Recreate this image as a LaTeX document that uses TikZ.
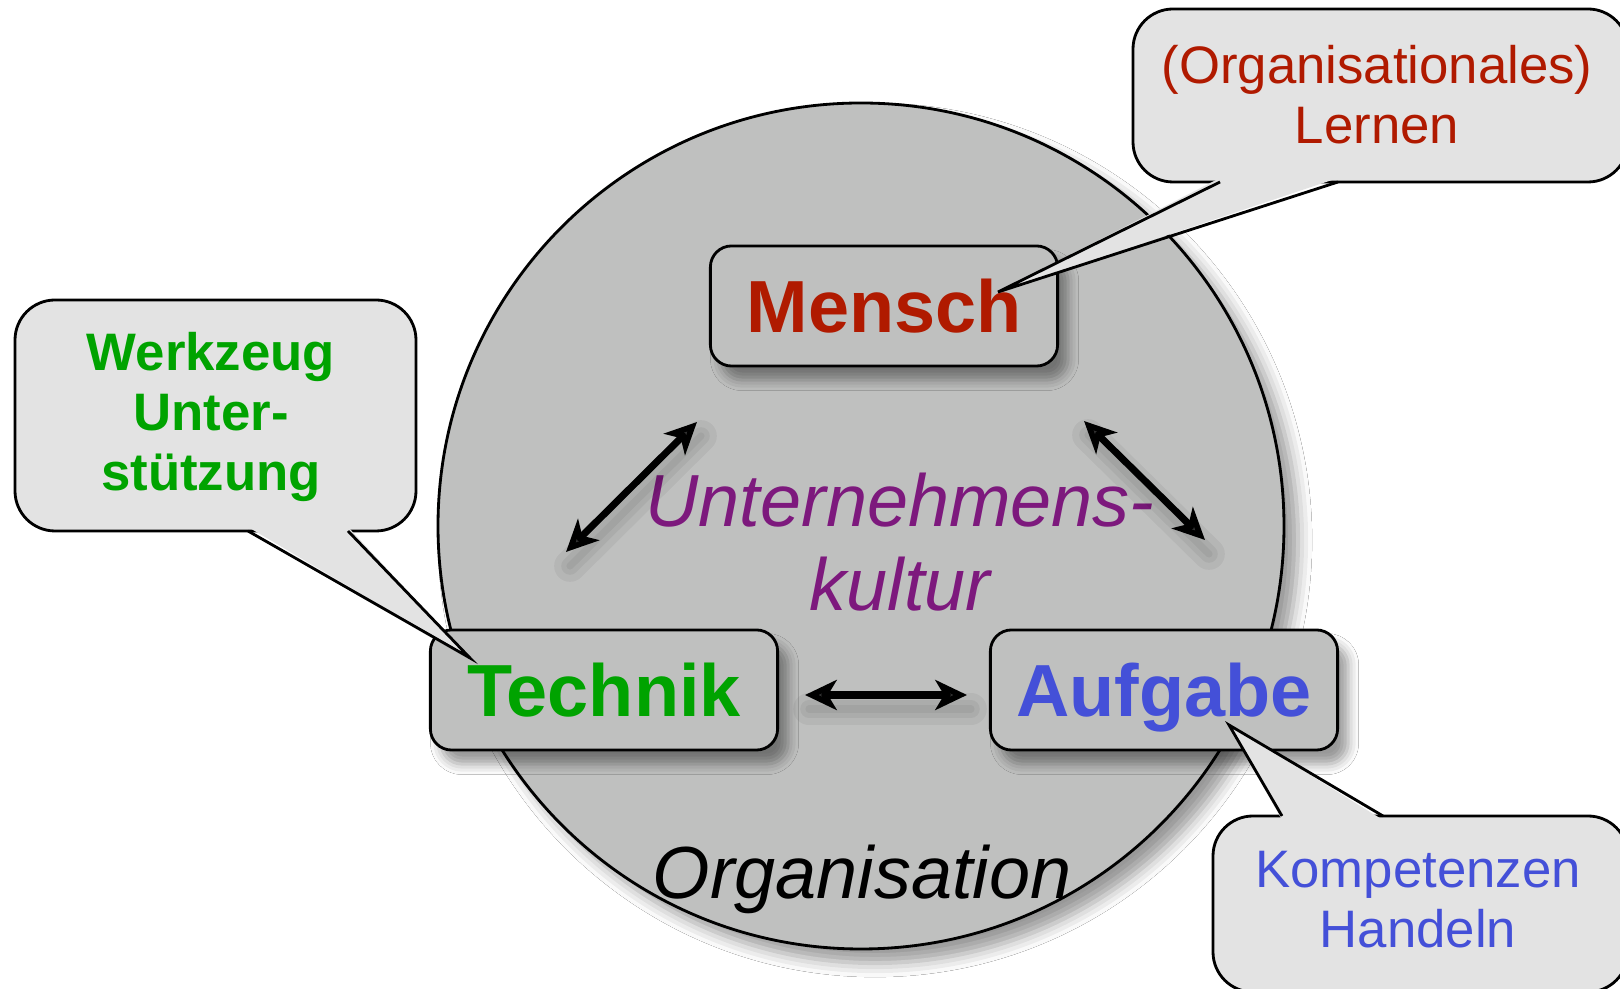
\documentclass[tikz,border=0pt]{standalone}
\usepackage{fontspec}
\setmainfont{Liberation Sans}
\usetikzlibrary{arrows.meta}
\usetikzlibrary{shadows.blur}

\definecolor{orggray}{RGB}{191,192,191}
\definecolor{bubblegray}{RGB}{227,227,227}
\definecolor{menschred}{RGB}{176,26,0}
\definecolor{technikgreen}{RGB}{0,163,0}
\definecolor{aufgabeblue}{RGB}{68,80,216}
\definecolor{kulturpurple}{RGB}{125,25,125}

\tikzset{
  box/.style={draw, fill=orggray, line width=0.8pt, rounded corners=6pt,
    minimum width=3.47cm, minimum height=1.2cm, text height=15pt, text depth=0pt,
    font=\bfseries\fontsize{21}{25}\selectfont,
    blur shadow={shadow xshift=3pt, shadow yshift=-4pt, shadow blur radius=3pt}},
  bubble/.style={draw, fill=bubblegray, line width=0.8pt, rounded corners=0.4cm},
  bubbletext/.style={align=center, font=\fontsize{15}{17}\selectfont},
  relation/.style={line width=2pt,
    {Stealth[length=9pt,width=8.5pt,inset=2.5pt]}-{Stealth[length=9pt,width=8.5pt,inset=2.5pt]}},
  relshadow/.style={line width=#1, black, opacity=0.05, line cap=round},
}

\begin{document}
\begin{tikzpicture}[x=0.01cm, y=-0.01cm]
    \fill[white] (0,0) rectangle (1620,989);
    \useasboundingbox (0,0) rectangle (1620,989);

    % Organisation
    \draw[fill=orggray, line width=0.8pt,
      blur shadow={shadow xshift=4pt, shadow yshift=-4pt, shadow blur radius=4pt}]
      (861,526) circle (423);
    \node[anchor=base, font=\itshape\fontsize{21}{25}\selectfont] (orga) at (862,899) {Organisation};
    \node[align=center, text=kulturpurple, font=\itshape\fontsize{21}{24}\selectfont] (kultur) at (900,542)
      {Unternehmens-\\kultur};

    % Pfeile
    \coordinate (tm1) at (566,552);
    \coordinate (tm2) at (697,422);
    \coordinate (ma1) at (1084,421);
    \coordinate (ma2) at (1205,540);
    \coordinate (ta1) at (805,695);
    \coordinate (ta2) at (967,695);
    \foreach \a/\b in {tm1/tm2, ma1/ma2, ta1/ta2} {
      \draw[relshadow=9pt] ([shift={(4,14)}]\a) -- ([shift={(4,14)}]\b);
      \draw[relshadow=5pt] ([shift={(4,14)}]\a) -- ([shift={(4,14)}]\b);
      \draw[relshadow=2pt] ([shift={(4,14)}]\a) -- ([shift={(4,14)}]\b);
    }
    \draw[relation] (tm1) -- (tm2);
    \draw[relation] (ma1) -- (ma2);
    \draw[relation] (ta1) -- (ta2);

    % Kaesten
    \node[box, text=menschred] (mensch) at (884,306) {Mensch};
    \node[box, text=technikgreen] (technik) at (604,690) {Technik};
    \node[box, text=aufgabeblue] (aufgabe) at (1164,690) {Aufgabe};

    % Sprechblasen
    \coordinate (lerntip) at (998,292);
    \draw[bubble] (1133,9) rectangle (1628,182);
    \fill[bubblegray] (1220,178) -- (lerntip) -- (1338,178) -- cycle;
    \draw[line width=0.8pt] (1220,182) -- (lerntip) -- (1338,182);
    \node[bubbletext, text=menschred] (lernen) at (1377,95) {(Organisationales)\\Lernen};

    \coordinate (werktip) at (470,658);
    \draw[bubble] (15,300) rectangle (416,531);
    \fill[bubblegray] (248,527) -- (werktip) -- (348,527) -- cycle;
    \draw[line width=0.8pt] (248,531) -- (werktip) -- (348,531);
    \node[bubbletext, text=technikgreen, font=\bfseries\fontsize{15}{17}\selectfont] (werkzeug) at (211,417)
      {Werkzeug\\Unter-\\stützung};

    \coordinate (komptip) at (1229,725);
    \draw[bubble] (1213,816) rectangle (1628,992);
    \fill[bubblegray] (1282,820) -- (komptip) -- (1383,820) -- cycle;
    \draw[line width=0.8pt] (1282,816) -- (komptip) -- (1383,816);
    \node[bubbletext, text=aufgabeblue] (kompetenzen) at (1418,900) {Kompetenzen\\Handeln};
\end{tikzpicture}
\end{document}
